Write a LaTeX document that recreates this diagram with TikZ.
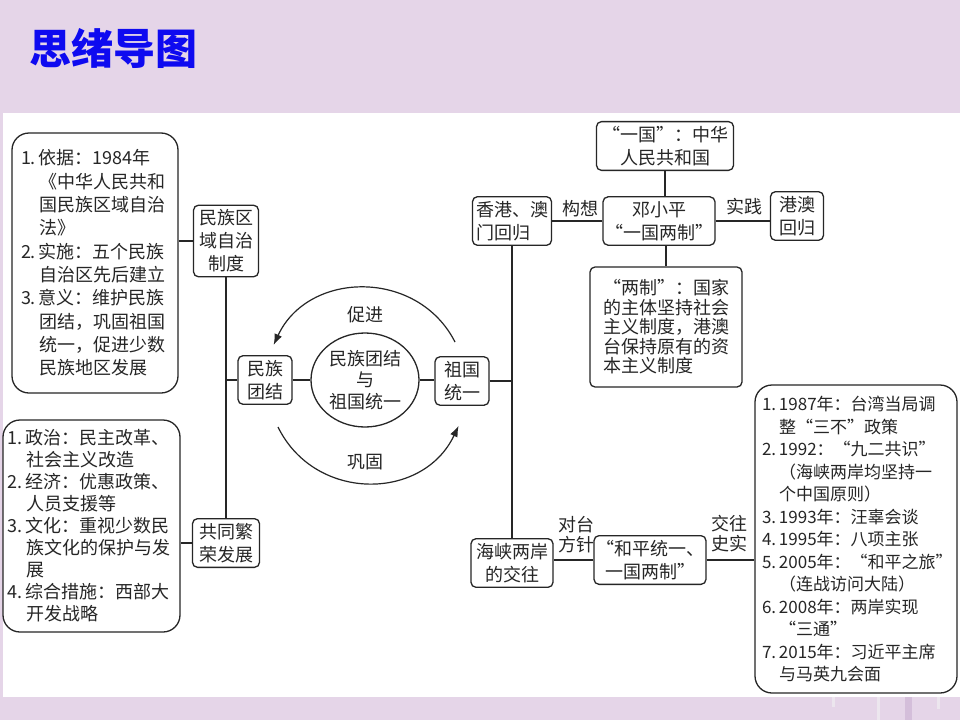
\documentclass[tikz,border=0pt]{standalone}
\usepackage{fontspec}
\setmainfont{Noto Sans CJK SC}
\usepackage{xcolor}
\usepackage{tikz}
\usetikzlibrary{positioning}
\usetikzlibrary{shapes.geometric}
\usetikzlibrary{arrows.meta}
\definecolor{bgpurple}{RGB}{229,213,232}
\definecolor{stripedark}{RGB}{212,190,218}
\definecolor{stripelight}{RGB}{236,230,238}
\definecolor{titleblue}{RGB}{14,10,240}
\definecolor{ink}{RGB}{38,38,38}
\newcommand{\subline}{\hspace*{1em}}

\begin{document}
\begin{tikzpicture}[x=1pt,y=-1pt,
  box/.style={draw=ink, line width=1.3pt, rounded corners=5pt, align=center, text=ink,
    inner xsep=2pt, inner ysep=4.5pt, font=\fontsize{18}{23}\selectfont},
  bigbox/.style={draw=ink, line width=1.3pt, rounded corners=17pt, align=left, text=ink},
  link/.style={draw=ink, line width=1.1pt},
  curvedarrow/.style={draw=ink, line width=1.2pt, -{Latex[length=11pt,width=8pt]}},
  tag/.style={text=ink, align=center, inner sep=0pt, font=\fontsize{18}{20}\selectfont}]
% background
\fill[bgpurple] (0,0) rectangle (960,720);
\fill[white] (3,113) rectangle (960,697);
\fill[stripelight] (832,697) rectangle (835,707);
\fill[stripelight] (877,697) rectangle (880,720);
\fill[stripedark] (905,697) rectangle (912,720);
\fill[stripelight] (937,697) rectangle (940,709);
% title
\node[text=titleblue, font=\fontsize{42}{42}\selectfont\bfseries] (title) at (113,48) {思绪导图};

% left side
\node[bigbox, inner xsep=9pt, text width=148pt, minimum height=260pt, font=\fontsize{18}{23.3}\selectfont] (sys) at (95,263)
  {1.\,依据：1984年\\\subline《中华人民共和\\\subline 国民族区域自治\\\subline 法》\\2.\,实施：五个民族\\\subline 自治区先后建立\\3.\,意义：维护民族\\\subline 团结，巩固祖国\\\subline 统一，促进少数\\\subline 民族地区发展};
\node[box, minimum width=65pt] (autonomy) at (226,241) {民族区\\域自治\\制度};
\node[box, minimum width=54pt] (unity) at (265,380) {民族\\团结};
\node[box, minimum width=67pt] (prosper) at (226,543) {共同繁\\荣发展};
\node[bigbox, inner xsep=5pt, text width=167pt, minimum height=212pt, font=\fontsize{18}{22}\selectfont] (measures) at (91.5,526)
  {1.\,政治：民主改革、\\\subline 社会主义改造\\2.\,经济：优惠政策、\\\subline 人员支援等\\3.\,文化：重视少数民\\\subline 族文化的保护与发\\\subline 展\\4.\,综合措施：西部大\\\subline 开发战略};

% centre
\node[ellipse, draw=ink, line width=1.3pt, minimum width=108pt, minimum height=94pt, inner sep=0pt, align=center, text=ink, font=\fontsize{18}{21.5}\selectfont] (core) at (365,380) {民族团结\\与\\祖国统一};
\node[box, minimum width=54pt] (reunify) at (462,381) {祖国\\统一};
\coordinate (pushstart) at (455,342);
\coordinate (pushend) at (273.6,345);
\coordinate (holdstart) at (278,427);
\coordinate (holdend) at (458.6,425.8);
\draw[curvedarrow] (pushstart) .. controls (417.7,268.6) and (308.2,270.4) .. (pushend);
\draw[curvedarrow] (holdstart) .. controls (314.9,502.3) and (423,501.2) .. (holdend);
\node[tag] (push) at (365,315) {促进};
\node[tag] (hold) at (365,462) {巩固};

% right side, top
\node[box, minimum width=79pt, align=left] (return) at (512,221) {香港、澳\\门回归};
\node[box, minimum width=106pt] (deng) at (659,221) {邓小平\\“一国两制”};
\node[box, minimum width=137pt] (onecountry) at (665,146) {“一国”：中华\\人民共和国};
\node[box, minimum width=53pt] (hkmo) at (797,216) {港澳\\回归};
\node[box, minimum width=152pt, minimum height=120pt, align=left, font=\fontsize{18}{19.5}\selectfont] (twosys) at (666,327)
  {“两制”：国家\\的主体坚持社会\\主义制度，港澳\\台保持原有的资\\本主义制度};
\node[tag] (idea) at (580,209) {构想};
\node[tag] (practice) at (744,207) {实践};

% right side, bottom
\node[box, minimum width=82pt] (strait) at (512,563) {海峡两岸\\的交往};
\node[box, minimum width=102pt] (peace) at (650,560) {“和平统一、\\一国两制”};
\node[bigbox, inner xsep=7pt, text width=188pt, minimum height=308pt, font=\fontsize{17}{22.5}\selectfont] (history) at (856,539)
  {1.\,1987年：台湾当局调\\\subline 整“三不”政策\\2.\,1992：“九二共识”\\\subline（海峡两岸均坚持一\\\subline 个中国原则）\\3.\,1993年：汪辜会谈\\4.\,1995年：八项主张\\5.\,2005年：“和平之旅”\\\subline（连战访问大陆）\\6.\,2008年：两岸实现\\\subline“三通”\\7.\,2015年：习近平主席\\\subline 与马英九会面};
\node[tag] (policy) at (576,535) {对台\\方针};
\node[tag] (facts) at (729,534) {交往\\史实};

% connectors
\draw[link] (autonomy.west) -- (autonomy.west -| sys.east);
\draw[link] (autonomy.south) -- (prosper.north);
\draw[link] (unity.west) -- (unity.west -| autonomy.south);
\draw[link] (prosper.west) -- (prosper.west -| measures.east);
\draw[link] (unity.east) -- (core.west);
\draw[link] (core.east) -- (core.east -| reunify.west);
\draw[link] (reunify.east) -- (reunify.east -| return.south);
\draw[link] (return.south) -- (strait.north);
\draw[link] (return.east) -- (deng.west);
\draw[link] (deng.east) -- (deng.east -| hkmo.west);
\draw[link] (onecountry.south) -- (onecountry.south |- deng.north);
\draw[link] (twosys.north) -- (twosys.north |- deng.south);
\draw[link] (peace.west) -- (peace.west -| strait.east);
\draw[link] (peace.east) -- (peace.east -| history.west);
\end{tikzpicture}
\end{document}
